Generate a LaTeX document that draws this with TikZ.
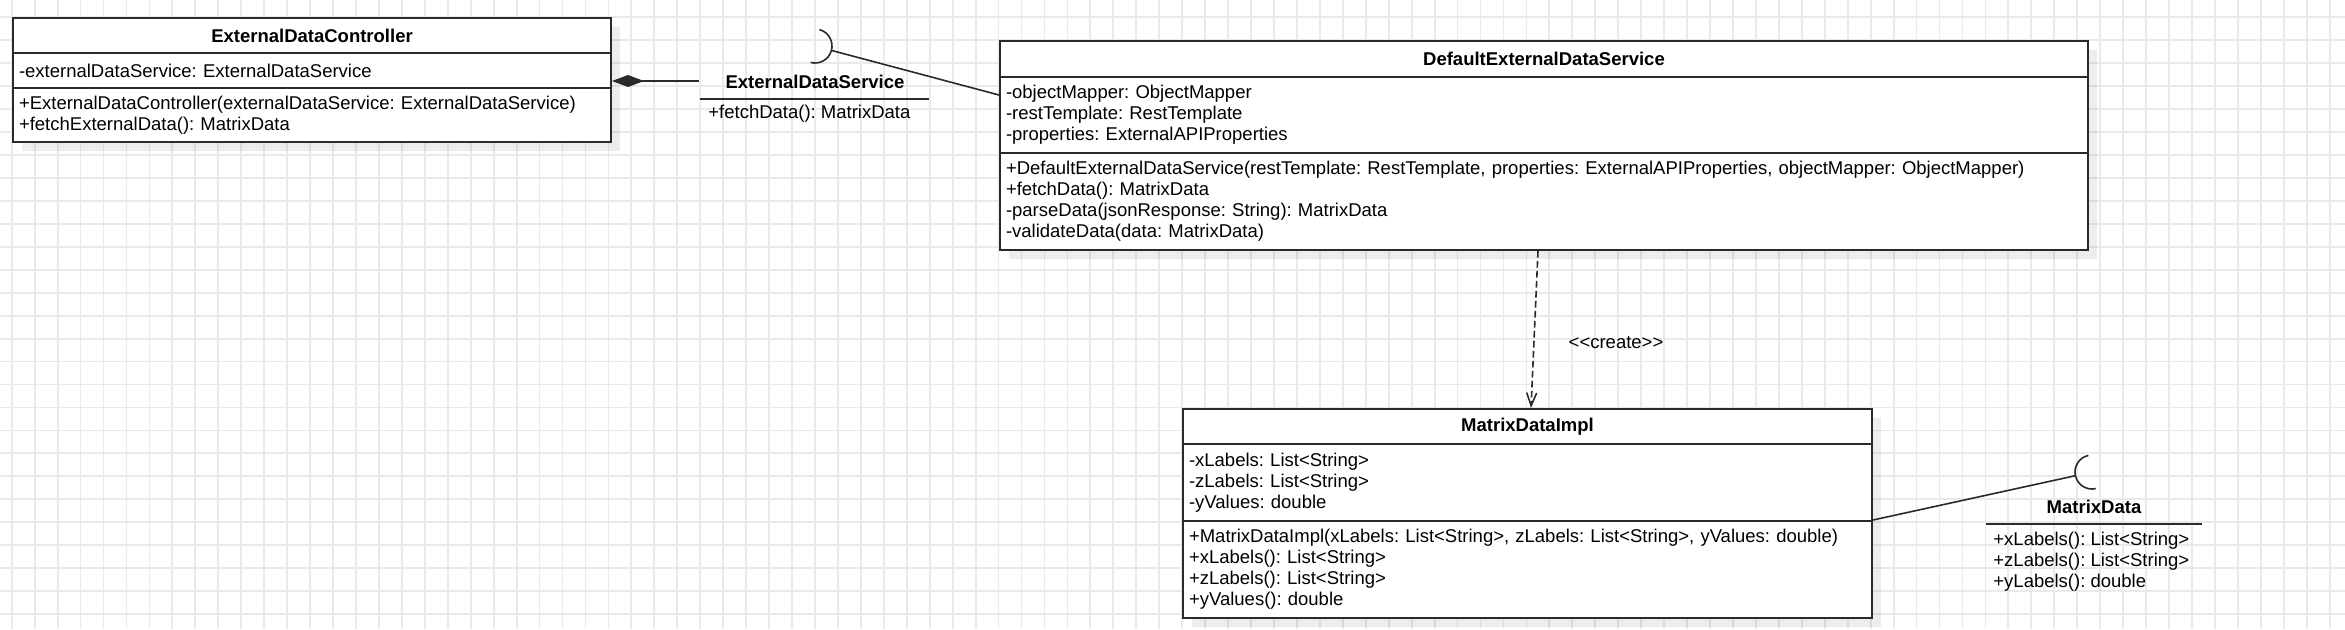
\documentclass[tikz,border=0pt]{standalone}
\usepackage{fontspec}
\newfontfamily\umlfont{Liberation Sans}
\usetikzlibrary{arrows.meta,calc}
\definecolor{gridcol}{HTML}{EAEAEA}
\definecolor{linecol}{HTML}{2A2A2A}
\frenchspacing
\begin{document}
\begin{tikzpicture}[x=0.5pt,y=0.5pt,
  umltext/.style={font=\umlfont\fontsize{9.25}{10.5}\selectfont},
  part/.style={umltext, draw=linecol, line width=1pt, fill=white, anchor=north west,
    inner xsep=3pt, inner ysep=0pt, align=left},
  titlepart/.style={part, align=center, font=\umlfont\bfseries\fontsize{9.25}{10.5}\selectfont},
  ifacename/.style={font=\umlfont\bfseries\fontsize{9.25}{10.5}\selectfont, inner sep=0pt},
  ifacetext/.style={umltext, anchor=west, align=left, inner xsep=3pt, inner ysep=0pt},
  gridline/.style={draw=gridcol, line width=0.9pt},
  shadowbox/.style={fill=black, fill opacity=0.07},
  conn/.style={draw=linecol, line width=0.8pt},
  ifaceline/.style={draw=linecol, line width=1pt}
]
\useasboundingbox (0,0) rectangle (2345,-629);
\fill[white] (0,0) rectangle (2345,-629);
% grid
\foreach \i in {0,...,101} \draw[gridline] ({11.7+22.95*\i},0) -- ({11.7+22.95*\i},-629);
\foreach \j in {0,...,26} \draw[gridline] (0,{-17.3-22.95*\j}) -- (2345,{-17.3-22.95*\j});
% shadows
\fill[shadowbox] (22,-27) rectangle (620,-151);
\fill[shadowbox] (1009,-50) rectangle (2097,-259);
\fill[shadowbox] (1192,-418) rectangle (1881,-627);

% ExternalDataController
\node[titlepart, text width=293pt, minimum height=17.5pt] (edc-title) at (12,-17) {ExternalDataController};
\node[part, text width=293pt, minimum height=17.5pt] (edc-attr) at (12,-52) {-externalDataService: ExternalDataService};
\node[part, text width=293pt, minimum height=27pt] (edc-meth) at (12,-87) {+ExternalDataController(externalDataService: ExternalDataService)\\+fetchExternalData(): MatrixData};

% DefaultExternalDataService
\node[titlepart, text width=538pt, minimum height=18pt] (deds-title) at (999,-40) {DefaultExternalDataService};
\node[part, text width=538pt, minimum height=38pt] (deds-attr) at (999,-76) {-objectMapper: ObjectMapper\\-restTemplate: RestTemplate\\-properties: ExternalAPIProperties};
\node[part, text width=538pt, minimum height=48.5pt] (deds-meth) at (999,-152) {+DefaultExternalDataService(restTemplate: RestTemplate, properties: ExternalAPIProperties, objectMapper: ObjectMapper)\\+fetchData(): MatrixData\\-parseData(jsonResponse: String): MatrixData\\-validateData(data: MatrixData)};

% MatrixDataImpl
\node[titlepart, text width=338.5pt, minimum height=17.5pt] (mdi-title) at (1182,-408) {MatrixDataImpl};
\node[part, text width=338.5pt, minimum height=38.5pt] (mdi-attr) at (1182,-443) {-xLabels: List<String>\\-zLabels: List<String>\\-yValues: double};
\node[part, text width=338.5pt, minimum height=48.5pt] (mdi-meth) at (1182,-520) {+MatrixDataImpl(xLabels: List<String>, zLabels: List<String>, yValues: double)\\+xLabels(): List<String>\\+zLabels(): List<String>\\+yValues(): double};

% ExternalDataService interface
\node[ifacename] (eds-name) at (815,-82) {ExternalDataService};
\coordinate (eds-l) at (700,-99);
\coordinate (eds-r) at (929,-99);
\draw[ifaceline] (eds-l) -- (eds-r);
\node[ifacetext] (eds-meth) at (702,-114) {+fetchData(): MatrixData};
\coordinate (eds-left) at (699,-81);
\coordinate (eds-sock) at (815,-46);
\coordinate (eds-contact) at ($(eds-sock)+(-15:8.5pt)$);
\coordinate (deds-in) at ($(deds-title.north west)+(0,-55)$);
\draw[conn] ($(eds-sock)+(75:8.5pt)$) arc[start angle=75, end angle=-105, radius=8.5pt];
\draw[conn] (eds-contact) -- (deds-in);
\draw[conn, -{Diamond[length=16pt, width=6pt, fill=linecol]}] (eds-left) -- (edc-attr.east |- eds-left);

% MatrixData interface
\node[ifacename] (md-name) at (2094,-507) {MatrixData};
\coordinate (md-l) at (1986,-524);
\coordinate (md-r) at (2202,-524);
\draw[ifaceline] (md-l) -- (md-r);
\node[ifacetext] (md-meth) at (1987,-561.5) {+xLabels(): List<String>\\+zLabels(): List<String>\\+yLabels(): double};
\coordinate (md-sock) at (2092,-472);
\coordinate (md-contact) at ($(md-sock)+(192.5:8.5pt)$);
\draw[conn] ($(md-sock)+(102.5:8.5pt)$) arc[start angle=102.5, end angle=282.5, radius=8.5pt];
\draw[conn] (mdi-meth.north east) -- (md-contact);

% create dependency
\coordinate (dep-a) at ($(deds-meth.south)+(-6,0)$);
\coordinate (dep-b) at ($(mdi-title.north)+(3.5,0)$);
\draw[conn, dash pattern=on 3.3pt off 1.7pt, -{Straight Barb[length=6.5pt, width=5pt]}] (dep-a) -- (dep-b);
\node[umltext, inner sep=0pt] (create-lbl) at (1616,-343) {<<create>>};
\end{tikzpicture}
\end{document}
